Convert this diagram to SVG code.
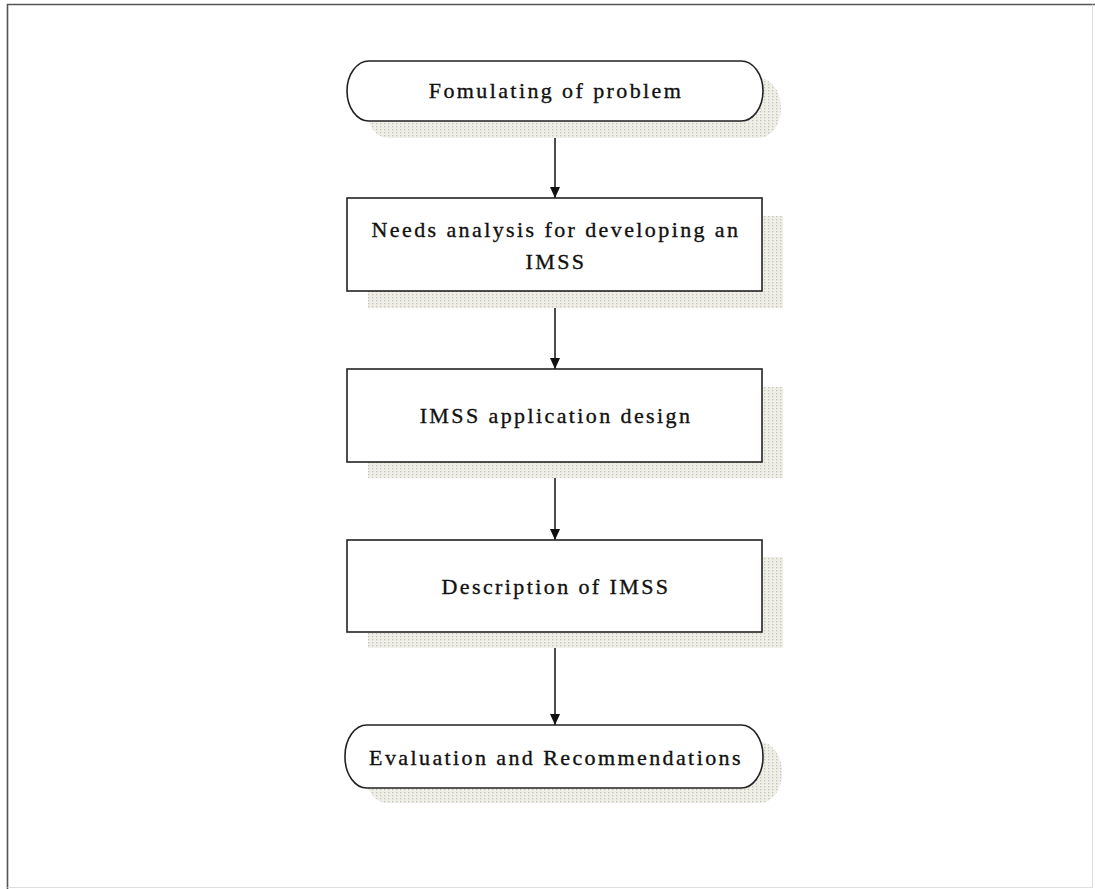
<svg xmlns="http://www.w3.org/2000/svg" width="1095" height="889" viewBox="0 0 1095 889">
<style>
.node{fill:#fff;stroke:#222;stroke-width:1.6}
.shadow{fill:url(#dots)}
.lbl{font-family:"Liberation Serif","Times New Roman",serif;font-size:22px;letter-spacing:2.4px;fill:#111;stroke:#111;stroke-width:0.35;text-anchor:middle}
.conn{stroke:#111;stroke-width:1.5;fill:none}
</style>
<defs>
<pattern id="dots" width="4" height="3" patternUnits="userSpaceOnUse">
<rect width="4" height="3" fill="#efefe8"/>
<rect x="0" y="0" width="1.3" height="1.3" fill="#c4c4bc"/>
</pattern>
<marker id="arr" viewBox="0 0 12 12" refX="12" refY="6" markerWidth="12" markerHeight="11" markerUnits="userSpaceOnUse" orient="auto">
<path d="M0,0.5 L12,6 L0,11.5 Z" fill="#111"/>
</marker>
</defs>
<rect width="1095" height="889" fill="#fff"/>
<path d="M7.5,889 V4.5 H1095" fill="none" stroke="#555" stroke-width="1.6"/>
<path d="M1092.5,4.5 V887.5 H7.5" fill="none" stroke="#ddd" stroke-width="1"/>

<g id="connectors">
<line class="conn" x1="555" y1="121" x2="555" y2="198" marker-end="url(#arr)"/>
<line class="conn" x1="555" y1="291" x2="555" y2="369" marker-end="url(#arr)"/>
<line class="conn" x1="555" y1="462" x2="555" y2="540" marker-end="url(#arr)"/>
<line class="conn" x1="555" y1="632" x2="555" y2="725" marker-end="url(#arr)"/>
</g>

<g id="n1">
<rect class="shadow" x="366" y="78" width="415" height="60" rx="22" ry="30"/>
<rect class="node" x="347" y="61" width="416" height="60" rx="22" ry="30"/>
<text class="lbl" x="556" y="98">Fomulating of problem</text>
</g>

<g id="n2">
<rect class="shadow" x="368" y="216" width="415" height="92"/>
<rect class="node" x="347" y="198" width="415" height="93"/>
<text class="lbl" x="556" y="237">Needs analysis for developing an</text>
<text class="lbl" x="556" y="269">IMSS</text>
</g>

<g id="n3">
<rect class="shadow" x="368" y="387" width="415" height="91"/>
<rect class="node" x="347" y="369" width="415" height="93"/>
<text class="lbl" x="556" y="423">IMSS application design</text>
</g>

<g id="n4">
<rect class="shadow" x="368" y="557" width="415" height="91"/>
<rect class="node" x="347" y="540" width="415" height="92"/>
<text class="lbl" x="556" y="594">Description of IMSS</text>
</g>

<g id="n5">
<rect class="shadow" x="365" y="742" width="417" height="61" rx="22" ry="30"/>
<rect class="node" x="345" y="725" width="418" height="63" rx="22" ry="31"/>
<text class="lbl" x="556" y="765">Evaluation and Recommendations</text>
</g>
</svg>
